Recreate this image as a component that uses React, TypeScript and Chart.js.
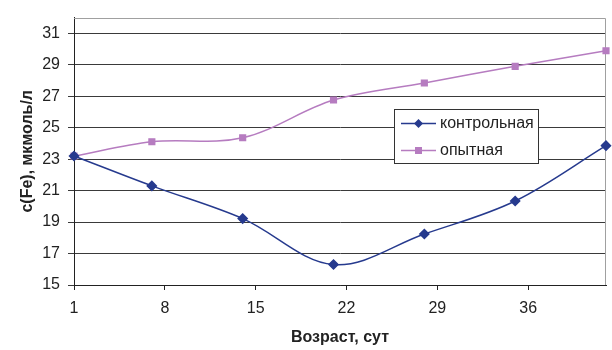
import React, { useEffect, useRef } from "react";
import { Chart, registerables } from "chart.js";

Chart.register(...registerables);

const DAYS = [1, 7, 14, 21, 28, 35, 42];
const CONTROL = [23.2, 21.3, 19.22, 16.3, 18.24, 20.34, 23.86];
const EXPERIMENT = [23.2, 24.11, 24.36, 26.76, 27.84, 28.9, 29.89];
const X_TICKS = [1, 8, 15, 22, 29, 36];
const Y_TICKS = [15, 17, 19, 21, 23, 25, 27, 29, 31];
const SERIES_NAMES = ["контрольная", "опытная"];
const X_TITLE = "Возраст, сут";
const Y_TITLE = "c(Fe), мкмоль/л";

const FONT = "Arial, 'Liberation Sans', sans-serif";
const CONTROL_COLOR = "#263a8e";
const EXP_COLOR = "#b67cc0";

const framePlugin = {
  id: "frame",
  beforeDatasetsDraw(chart: any) {
    const { ctx, chartArea } = chart;
    ctx.save();
    ctx.strokeStyle = "#a0a0a0";
    ctx.lineWidth = 1;
    ctx.beginPath();
    const t = Math.round(chartArea.top) + 0.5;
    const r = Math.round(chartArea.right) - 0.5;
    ctx.moveTo(chartArea.left, t);
    ctx.lineTo(r, t);
    ctx.lineTo(r, chartArea.bottom);
    ctx.stroke();
    ctx.restore();
  },
};

const legendPlugin = {
  id: "boxLegend",
  afterDraw(chart: any) {
    const { ctx } = chart;
    const x = 394.5, y = 109.5, w = 144, h = 54;
    ctx.save();
    ctx.fillStyle = "#ffffff";
    ctx.fillRect(x, y, w, h);
    ctx.strokeStyle = "#333333";
    ctx.lineWidth = 1;
    ctx.strokeRect(x, y, w, h);
    chart.data.datasets.forEach((ds: any, i: number) => {
      const cy = 123.5 + i * 27;
      ctx.strokeStyle = ds.borderColor;
      ctx.lineWidth = 1.5;
      ctx.beginPath();
      ctx.moveTo(401, cy);
      ctx.lineTo(436, cy);
      ctx.stroke();
      ctx.fillStyle = ds.pointBackgroundColor;
      if (ds.pointStyle === "rectRot") {
        ctx.beginPath();
        ctx.moveTo(418.5, cy - 4.5);
        ctx.lineTo(423, cy);
        ctx.lineTo(418.5, cy + 4.5);
        ctx.lineTo(414, cy);
        ctx.closePath();
        ctx.fill();
      } else {
        ctx.fillRect(415, cy - 3.5, 7, 7);
      }
      ctx.fillStyle = "#222222";
      ctx.font = `16px ${FONT}`;
      ctx.textBaseline = "middle";
      ctx.textAlign = "left";
      ctx.fillText(ds.label, 440, cy);
    });
    ctx.restore();
  },
};

export default function App() {
  const ref = useRef<HTMLCanvasElement>(null);
  useEffect(() => {
    if (!ref.current) return;
    const chart = new Chart(ref.current, {
      type: "line",
      data: {
        datasets: [
          {
            label: SERIES_NAMES[0],
            data: DAYS.map((d, i) => ({ x: d, y: CONTROL[i] })),
            borderColor: CONTROL_COLOR,
            backgroundColor: CONTROL_COLOR,
            pointBackgroundColor: CONTROL_COLOR,
            pointBorderColor: CONTROL_COLOR,
            pointStyle: "rectRot",
            pointRadius: 4.5,
            borderWidth: 1.5,
            tension: 0.35,
            clip: false as any,
          },
          {
            label: SERIES_NAMES[1],
            data: DAYS.map((d, i) => ({ x: d, y: EXPERIMENT[i] })),
            borderColor: EXP_COLOR,
            backgroundColor: EXP_COLOR,
            pointBackgroundColor: EXP_COLOR,
            pointBorderColor: EXP_COLOR,
            pointStyle: "rect",
            pointRadius: 4,
            borderWidth: 1.5,
            tension: 0.35,
            clip: false as any,
          },
        ],
      },
      options: {
        animation: false,
        responsive: false,
        layout: { padding: { left: 0, right: 2, top: 13, bottom: 0 } },
        plugins: { legend: { display: false }, tooltip: { enabled: false } },
        scales: {
          x: {
            type: "linear",
            min: 1,
            max: 42,
            afterBuildTicks: (s: any) => {
              s.ticks = X_TICKS.map((v) => ({ value: v }));
            },
            afterFit: (s: any) => {
              s.height = 65;
            },
            grid: { drawOnChartArea: false, drawTicks: true, tickLength: 5, color: "#222" },
            border: { color: "#222", width: 1 },
            ticks: { color: "#222", font: { family: FONT, size: 16 }, padding: 9, maxRotation: 0, autoSkip: false },
            title: {
              display: true,
              text: X_TITLE,
              color: "#222",
              font: { family: FONT, size: 16, weight: "bold" },
              padding: { top: 0, bottom: 3 },
            },
          },
          y: {
            min: 15,
            max: 32,
            afterBuildTicks: (s: any) => {
              s.ticks = Y_TICKS.map((v) => ({ value: v }));
            },
            afterFit: (s: any) => {
              s.width = 74;
            },
            grid: { color: "#3a3a3a", tickLength: 6, drawTicks: true },
            border: { color: "#222", width: 1 },
            ticks: { color: "#222", font: { family: FONT, size: 16 }, padding: 8 },
            title: {
              display: true,
              text: Y_TITLE,
              color: "#222",
              font: { family: FONT, size: 16, weight: "bold" },
              padding: { top: 18, bottom: 0 },
            },
          },
        },
      },
      plugins: [framePlugin, legendPlugin],
    } as any);
    return () => chart.destroy();
  }, []);
  return (
    <div style={{ position: "fixed", left: 0, top: 0, width: 612, height: 350, background: "#fff" }}>
      <canvas ref={ref} width={612} height={350} style={{ display: "block" }} />
    </div>
  );
}
